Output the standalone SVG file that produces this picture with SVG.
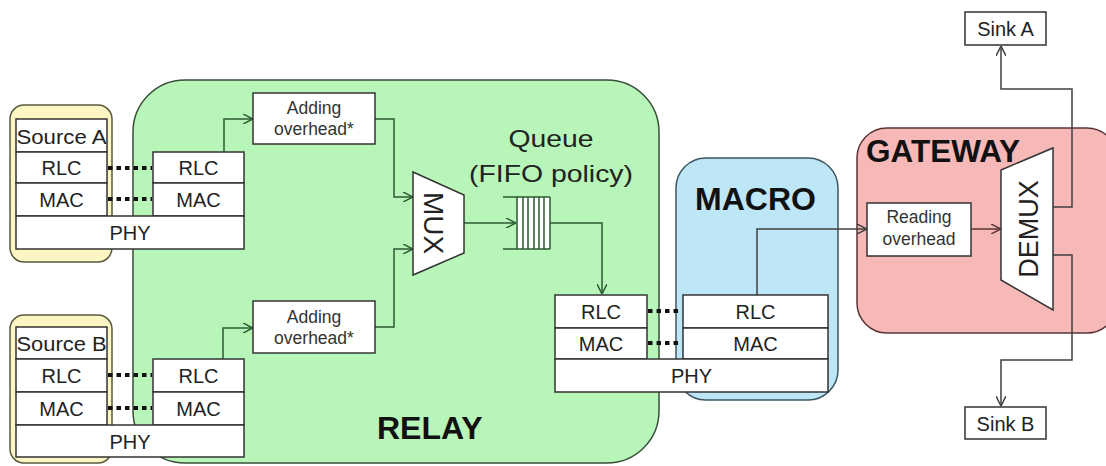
<svg xmlns="http://www.w3.org/2000/svg" width="1106" height="466" viewBox="0 0 1106 466">
  <defs>
    <marker id="arr" viewBox="0 0 10 10" refX="10" refY="5" markerWidth="10" markerHeight="10" markerUnits="userSpaceOnUse" orient="auto">
      <path d="M0,0 L10,5 L0,10" fill="none" stroke="context-stroke" stroke-width="1.5"/>
    </marker>
    <style>
      .cell{fill:#ffffff;stroke:#333333;stroke-width:1.5}
      .lbl{font-family:"Liberation Sans",Arial,sans-serif;font-size:20px;fill:#222222;text-anchor:middle}
      .small{font-family:"Liberation Sans",Arial,sans-serif;font-size:17.5px;fill:#333333;text-anchor:middle}
      .big{font-family:"Liberation Sans",Arial,sans-serif;font-size:32px;font-weight:bold;fill:#111111}
      .conn{fill:none;stroke-width:1.5;marker-end:url(#arr)}
      .g{stroke:#2c5a32}
      .k{stroke:#404040}
      .r{stroke:#5a3434}
      .dots{fill:none;stroke:#111111;stroke-width:4;stroke-dasharray:4.5 4}
    </style>
  </defs>
  <rect width="1106" height="466" fill="#ffffff"/>

  <!-- regions -->
  <g id="relay">
    <rect x="133" y="80" width="526" height="383" rx="52" fill="#b8f5b8" stroke="#3a4f3a" stroke-width="1.5"/>
    <text class="big" x="377" y="439">RELAY</text>
  </g>
  <g id="source-a-bg">
    <rect x="10" y="105" width="102" height="157" rx="14" fill="#fcf6c4" stroke="#5a5a3c" stroke-width="1.5"/>
  </g>
  <g id="source-b-bg">
    <rect x="10" y="315" width="102" height="148" rx="14" fill="#fcf6c4" stroke="#5a5a3c" stroke-width="1.5"/>
  </g>
  <g id="macro">
    <rect x="676" y="158" width="162" height="242" rx="30" fill="#bde6f6" stroke="#3c5560" stroke-width="1.5"/>
    <text class="big" x="695" y="210">MACRO</text>
  </g>
  <g id="gateway">
    <rect x="857" y="128" width="260" height="205" rx="30" fill="#f7b8b8" stroke="#5a3434" stroke-width="1.5"/>
    <text class="big" x="866" y="162" style="font-size:31.5px">GATEWAY</text>
  </g>

  <!-- connectors -->
  <g id="connectors">
    <path class="conn g" d="M224,152 V119 H253"/>
    <path class="conn g" d="M375,119 H394 V197 H413"/>
    <path class="conn g" d="M223,359 V328 H253"/>
    <path class="conn g" d="M375,327 H394 V249 H413"/>
    <path class="conn g" d="M464,223 H516"/>
    <path class="conn g" d="M550,223 H602 V294"/>
    <path class="conn k" d="M757,295 V229 H867"/>
    <path class="conn r" d="M971,229 H1001"/>
    <path class="conn k" d="M1053,207 H1072 V89 H1001 V46"/>
    <path class="conn k" d="M1053,255 H1072 V360 H1001 V406"/>
    <line class="dots" x1="108" y1="168" x2="152" y2="168"/>
    <line class="dots" x1="108" y1="199" x2="152" y2="199"/>
    <line class="dots" x1="108" y1="375" x2="152" y2="375"/>
    <line class="dots" x1="108" y1="408" x2="152" y2="408"/>
    <line class="dots" x1="648" y1="311" x2="682" y2="311"/>
    <line class="dots" x1="648" y1="343" x2="682" y2="343"/>
  </g>

  <!-- Source A stack -->
  <g id="source-a">
    <rect class="cell" x="16" y="119" width="91" height="33"/>
    <rect class="cell" x="16" y="152" width="91" height="31"/>
    <rect class="cell" x="16" y="183" width="91" height="33"/>
    <text class="lbl" x="61.5" y="144" textLength="90" lengthAdjust="spacingAndGlyphs">Source A</text>
    <text class="lbl" x="61.5" y="175">RLC</text>
    <text class="lbl" x="61.5" y="207">MAC</text>
  </g>
  <g id="relay-a">
    <rect class="cell" x="153" y="152" width="91" height="31"/>
    <rect class="cell" x="153" y="183" width="91" height="33"/>
    <text class="lbl" x="198.5" y="175">RLC</text>
    <text class="lbl" x="198.5" y="207">MAC</text>
  </g>
  <g id="phy-a">
    <rect class="cell" x="16" y="216" width="228" height="33"/>
    <text class="lbl" x="130" y="240">PHY</text>
  </g>

  <!-- Source B stack -->
  <g id="source-b">
    <rect class="cell" x="16" y="327" width="91" height="32"/>
    <rect class="cell" x="16" y="359" width="91" height="33"/>
    <rect class="cell" x="16" y="392" width="91" height="33"/>
    <text class="lbl" x="61.5" y="351" textLength="90" lengthAdjust="spacingAndGlyphs">Source B</text>
    <text class="lbl" x="61.5" y="383">RLC</text>
    <text class="lbl" x="61.5" y="416">MAC</text>
  </g>
  <g id="relay-b">
    <rect class="cell" x="153" y="359" width="91" height="33"/>
    <rect class="cell" x="153" y="392" width="91" height="33"/>
    <text class="lbl" x="198.5" y="383">RLC</text>
    <text class="lbl" x="198.5" y="416">MAC</text>
  </g>
  <g id="phy-b">
    <rect class="cell" x="16" y="425" width="228" height="32"/>
    <text class="lbl" x="130" y="449">PHY</text>
  </g>

  <!-- Adding overhead -->
  <g id="adding-a">
    <rect class="cell" x="253" y="93" width="122" height="51"/>
    <text class="small" x="314" y="114">Adding</text>
    <text class="small" x="314" y="135">overhead*</text>
  </g>
  <g id="adding-b">
    <rect class="cell" x="253" y="301" width="122" height="52"/>
    <text class="small" x="314" y="323">Adding</text>
    <text class="small" x="314" y="344">overhead*</text>
  </g>

  <!-- MUX -->
  <g id="mux">
    <polygon class="cell" points="413,172 464,195 464,253 413,275"/>
    <text class="lbl" transform="translate(434,223) rotate(90)" x="0" y="10" style="font-size:28px">MUX</text>
  </g>

  <!-- Queue -->
  <g id="queue">
    <text class="lbl" x="551" y="147" textLength="85" lengthAdjust="spacingAndGlyphs" style="font-size:24px">Queue</text>
    <text class="lbl" x="551" y="182" textLength="164" lengthAdjust="spacingAndGlyphs" style="font-size:24px">(FIFO policy)</text>
    <rect x="517" y="197" width="33" height="52" fill="#ffffff" stroke="none"/>
    <path d="M503,197 H550 M503,249 H550 M517,197 V249 M523,197 V249 M528,197 V249 M534,197 V249 M539,197 V249 M544,197 V249 M550,197 V249" fill="none" stroke="#2c5a32" stroke-width="1.5"/>
  </g>

  <!-- Relay right stack -->
  <g id="relay-out">
    <rect class="cell" x="555" y="295" width="92" height="33"/>
    <rect class="cell" x="555" y="328" width="92" height="31"/>
    <text class="lbl" x="601" y="319">RLC</text>
    <text class="lbl" x="601" y="351">MAC</text>
  </g>
  <g id="macro-stack">
    <rect class="cell" x="683" y="295" width="145" height="33"/>
    <rect class="cell" x="683" y="328" width="145" height="31"/>
    <text class="lbl" x="755.5" y="319">RLC</text>
    <text class="lbl" x="755.5" y="351">MAC</text>
  </g>
  <g id="phy-link">
    <rect class="cell" x="555" y="359" width="273" height="33"/>
    <text class="lbl" x="691.5" y="383">PHY</text>
  </g>

  <!-- Gateway contents -->
  <g id="reading">
    <rect class="cell" x="867" y="203" width="104" height="53"/>
    <text class="small" x="919" y="223">Reading</text>
    <text class="small" x="919" y="245">overhead</text>
  </g>
  <g id="demux">
    <polygon class="cell" points="1001,170 1053,148 1053,310 1001,280"/>
    <text class="lbl" transform="translate(1028,229) rotate(-90)" x="0" y="10" style="font-size:27px">DEMUX</text>
  </g>

  <!-- Sinks -->
  <g id="sink-a">
    <rect class="cell" x="965" y="12" width="81" height="33"/>
    <text class="lbl" x="1005.5" y="36">Sink A</text>
  </g>
  <g id="sink-b">
    <rect class="cell" x="965" y="407" width="81" height="32"/>
    <text class="lbl" x="1005.5" y="431">Sink B</text>
  </g>
</svg>
